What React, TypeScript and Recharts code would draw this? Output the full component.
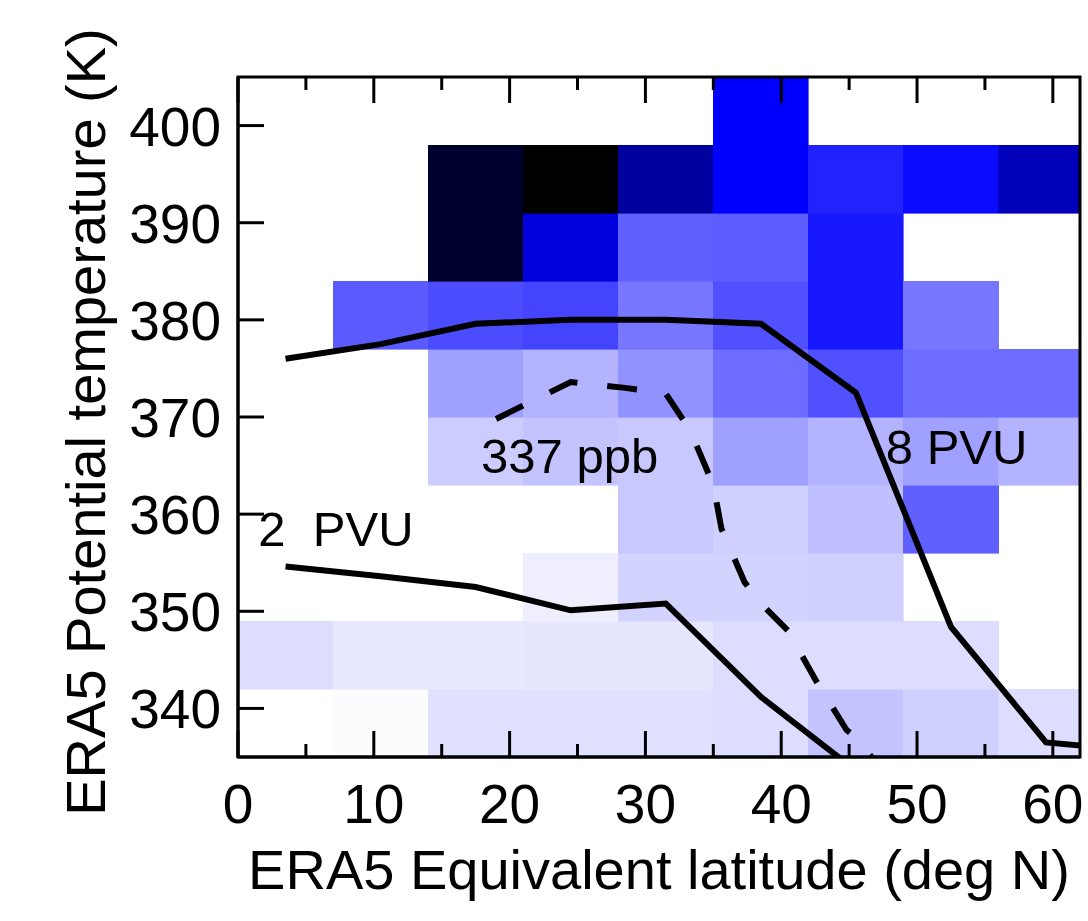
import { LineChart, Line, XAxis, YAxis, ReferenceArea, ReferenceDot, ReferenceLine, Label } from "recharts";

const FONT = "'Liberation Sans', Arial, sans-serif";

// bin edges of the histogram
const latEdges = [0, 7, 14, 21, 28, 35, 42, 49, 56, 63];
const thetaEdges = [335, 342, 349, 356, 363, 370, 377, 384, 391, 398, 405];

// relative frequency per bin (0 = white, 0.5 = pure blue, 1 = black), null = no data
const row335 = [null, 0.006, 0.061, 0.061, 0.061, 0.067, 0.118, 0.092, 0.067];
const row342 = [0.067, 0.045, 0.045, 0.049, 0.049, 0.067, 0.067, 0.067, null];
const row349 = [null, null, null, 0.033, 0.086, 0.086, 0.092, null, null];
const row356 = [null, null, null, null, 0.108, 0.092, 0.124, 0.312, null];
const row363 = [null, null, 0.1, 0.118, 0.108, 0.186, 0.149, 0.186, 0.149];
const row370 = [null, null, 0.186, 0.149, 0.214, 0.288, 0.343, 0.288, 0.288];
const row377 = [null, 0.324, 0.351, 0.367, 0.268, 0.343, 0.453, 0.268, null];
const row384 = [null, null, 0.91, 0.567, 0.312, 0.32, 0.453, null, null];
const row391 = [null, null, 0.91, 1.0, 0.69, 0.5, 0.433, 0.48, 0.633];
const row398 = [null, null, null, null, null, 0.5, null, null, null];
const rows = [row335, row342, row349, row356, row363, row370, row377, row384, row391, row398];

// contour lines (lat deg N, theta K)
const pvu2 = [
  { lat: 3.5, theta: 354.6 },
  { lat: 10.5, theta: 353.6 },
  { lat: 17.5, theta: 352.5 },
  { lat: 24.5, theta: 350.1 },
  { lat: 31.5, theta: 350.8 },
  { lat: 38.5, theta: 341.2 },
  { lat: 45.5, theta: 333.6 },
];
const pvu8 = [
  { lat: 3.5, theta: 376.0 },
  { lat: 10.5, theta: 377.5 },
  { lat: 17.5, theta: 379.6 },
  { lat: 24.5, theta: 380.0 },
  { lat: 31.5, theta: 380.0 },
  { lat: 38.5, theta: 379.6 },
  { lat: 45.5, theta: 372.5 },
  { lat: 52.5, theta: 348.4 },
  { lat: 59.5, theta: 336.5 },
  { lat: 66.5, theta: 335.6 },
];
const o3337 = [
  { lat: 19.0, theta: 369.8 },
  { lat: 24.5, theta: 373.6 },
  { lat: 28.5, theta: 373.0 },
  { lat: 31.5, theta: 372.4 },
  { lat: 33.3, theta: 368.6 },
  { lat: 35.0, theta: 363.0 },
  { lat: 35.6, theta: 358.5 },
  { lat: 37.3, theta: 353.0 },
  { lat: 38.5, theta: 350.8 },
  { lat: 40.5, theta: 348.0 },
  { lat: 42.5, theta: 343.0 },
  { lat: 44.8, theta: 337.8 },
  { lat: 45.5, theta: 337.0 },
  { lat: 47.5, theta: 333.5 },
];

const notes = [
  { lat: 1.5, theta: 356.7, text: "2  PVU" },
  { lat: 17.9, theta: 364.2, text: "337 ppb" },
  { lat: 47.7, theta: 365.2, text: "8 PVU" },
];

const xTicks = [0, 5, 10, 15, 20, 25, 30, 35, 40, 45, 50, 55, 60];
const yTicks = [340, 350, 360, 370, 380, 390, 400];

function cellColor(v: number) {
  if (v <= 0.5) {
    const c = Math.round(255 * (1 - 2 * v));
    return `rgb(${c},${c},255)`;
  }
  const b = Math.round(255 * (2 - 2 * v));
  return `rgb(0,0,${b})`;
}

const cells: { x1: number; x2: number; y1: number; y2: number; v: number }[] = [];
rows.forEach((row, j) =>
  row.forEach((v, i) => {
    if (v === null) return;
    cells.push({ x1: latEdges[i], x2: latEdges[i + 1], y1: thetaEdges[j], y2: thetaEdges[j + 1], v });
  })
);

const axisStyle = { stroke: "#000", strokeWidth: 3 };

function BottomTick(props: any) {
  const { x, y, payload } = props;
  const major = payload.value % 10 === 0;
  return (
    <g>
      <line x1={x} y1={y} x2={x} y2={y - (major ? 26 : 13)} stroke="#000" strokeWidth={3} />
      {major && (
        <text x={x} y={y + 66} textAnchor="middle" fontSize={55} fontFamily={FONT} fill="#000">
          {payload.value}
        </text>
      )}
    </g>
  );
}

function LeftTick(props: any) {
  const { x, y, payload } = props;
  return (
    <g>
      <line x1={x} y1={y} x2={x + 26} y2={y} stroke="#000" strokeWidth={3} />
      <text x={x - 17} y={y + 20} textAnchor="end" fontSize={55} fontFamily={FONT} fill="#000">
        {payload.value}
      </text>
    </g>
  );
}

export default function App() {
  return (
    <div style={{ position: "absolute", left: 0, top: 0, width: 1088, height: 921, background: "#fff" }}>
      <LineChart width={1088} height={921} margin={{ top: 77, right: 8, bottom: 0, left: 0 }}>
        <XAxis
          dataKey="lat"
          type="number"
          domain={[0, 62]}
          ticks={xTicks}
          interval={0}
          allowDataOverflow
          height={164}
          tickSize={0}
          tickMargin={0}
          axisLine={axisStyle}
          tick={<BottomTick />}
        >
          <Label
            content={(p: any) => (
              <text
                x={p.viewBox.x + p.viewBox.width / 2}
                y={p.viewBox.y + 132}
                textAnchor="middle"
                fontSize={56}
                fontFamily={FONT}
                fill="#000"
              >
                ERA5 Equivalent latitude (deg N)
              </text>
            )}
          />
        </XAxis>
        <YAxis
          type="number"
          domain={[335, 405]}
          ticks={yTicks}
          interval={0}
          allowDataOverflow
          width={238}
          tickSize={0}
          tickMargin={0}
          axisLine={axisStyle}
          tick={<LeftTick />}
        >
          <Label
            content={(p: any) => {
              const cx = 105;
              const cy = p.viewBox.y + p.viewBox.height / 2 + 5;
              return (
                <text
                  x={cx}
                  y={cy}
                  transform={`rotate(-90, ${cx}, ${cy})`}
                  textAnchor="middle"
                  fontSize={56}
                  fontFamily={FONT}
                  fill="#000"
                >
                  ERA5 Potential temperature (K)
                </text>
              );
            }}
          />
        </YAxis>

        {cells.map((c, k) => (
          <ReferenceArea
            key={k}
            x1={c.x1}
            x2={c.x2}
            y1={c.y1}
            y2={c.y2}
            ifOverflow="hidden"
            fill={cellColor(c.v)}
            fillOpacity={1}
            stroke={cellColor(c.v)}
            strokeWidth={0.6}
            shapeRendering="crispEdges"
          />
        ))}

        <Line data={pvu8} dataKey="theta" stroke="#000" strokeWidth={6} dot={false} isAnimationActive={false} />
        <Line data={pvu2} dataKey="theta" stroke="#000" strokeWidth={6} dot={false} isAnimationActive={false} />
        <Line
          data={o3337}
          dataKey="theta"
          stroke="#000"
          strokeWidth={6}
          strokeDasharray="30 30"
          dot={false}
          isAnimationActive={false}
        />

        {/* plot frame */}
        <ReferenceArea
          x1={0}
          x2={62}
          y1={335}
          y2={405}
          ifOverflow="visible"
          fill="none"
          stroke="#000"
          strokeWidth={3}
        />
        {/* mirrored ticks on the top edge */}
        {xTicks.map((t) => (
          <ReferenceLine
            key={`top${t}`}
            x={t}
            shape={(p: any) => {
              const top = Math.min(p.y1, p.y2);
              return (
                <line
                  x1={p.x1}
                  y1={top}
                  x2={p.x1}
                  y2={top + (t % 10 === 0 ? 26 : 13)}
                  stroke="#000"
                  strokeWidth={3}
                />
              );
            }}
          />
        ))}

        {notes.map((n) => (
          <ReferenceDot
            key={n.text}
            x={n.lat}
            y={n.theta}
            r={0}
            shape={(p: any) => (
              <text
                x={p.cx}
                y={p.cy}
                fontSize={49}
                fontFamily={FONT}
                fill="#000"
                style={{ whiteSpace: "pre" }}
              >
                {n.text}
              </text>
            )}
          />
        ))}
      </LineChart>
    </div>
  );
}
